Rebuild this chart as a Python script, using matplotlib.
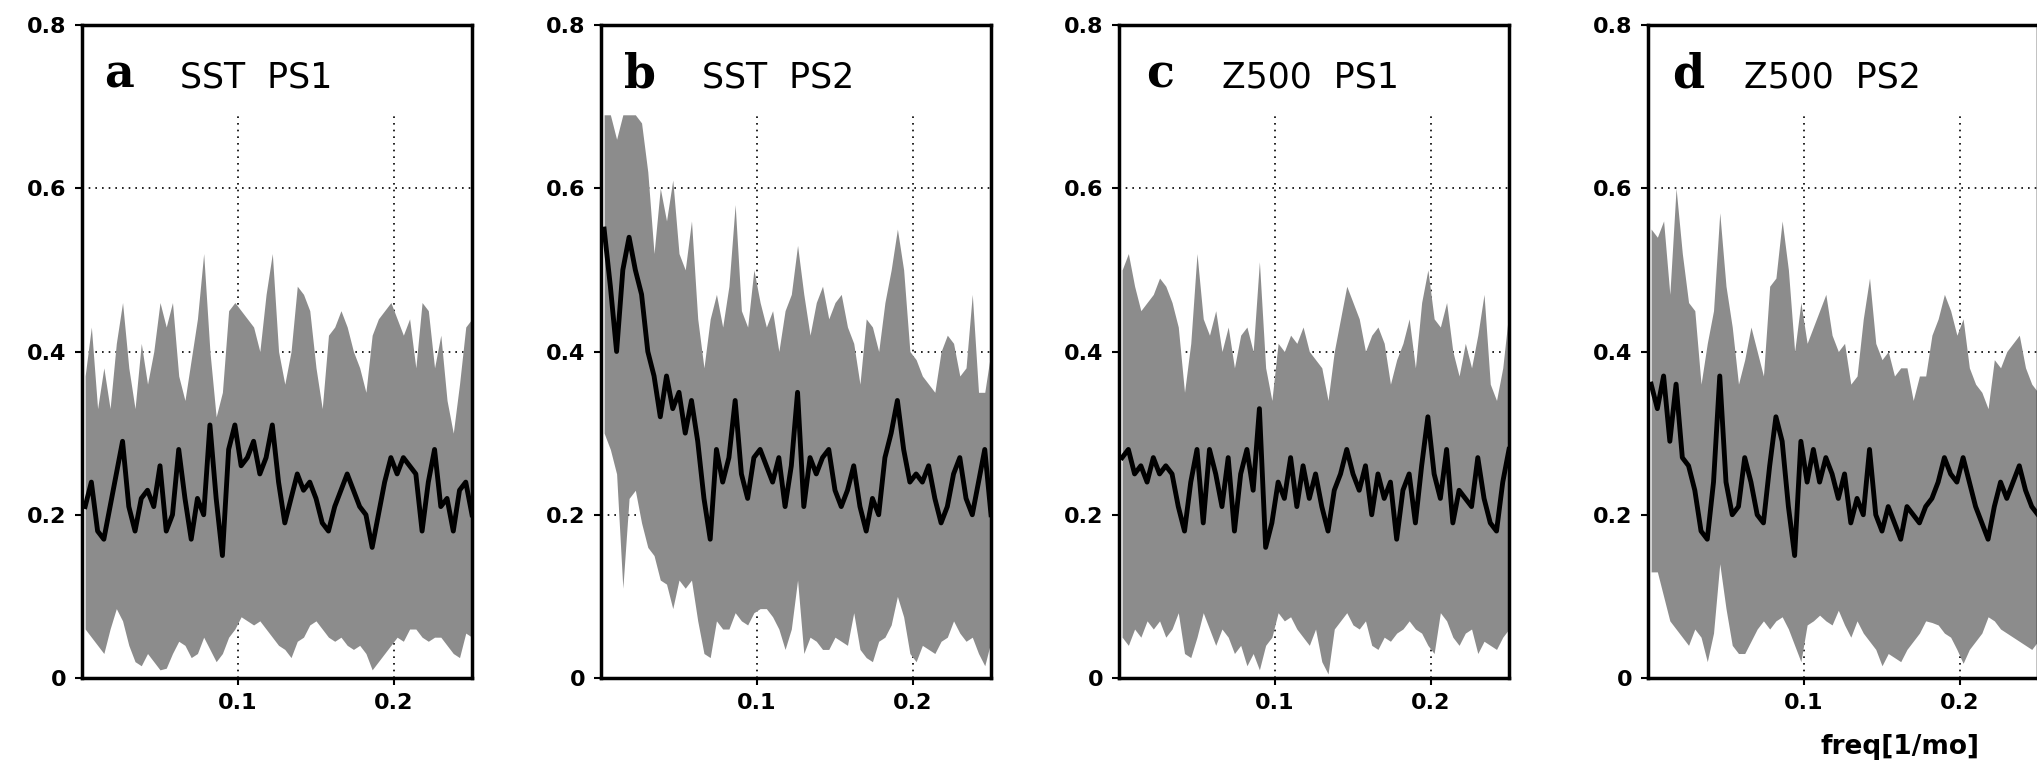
import numpy as np
import matplotlib.pyplot as plt
from matplotlib.transforms import blended_transform_factory

# --- data (x = frequency in 1/mo) ---
n_pts = 63
freq = np.linspace(0.002, 0.25, n_pts)

panel_tags = ['a', 'b', 'c', 'd']
panel_names = ['SST  PS1', 'SST  PS2', 'Z500  PS1', 'Z500  PS2']

# panel a: SST PS1
a_mean = [0.21, 0.24, 0.18, 0.17, 0.21, 0.25, 0.29, 0.21, 0.18, 0.22,
          0.23, 0.21, 0.26, 0.18, 0.20, 0.28, 0.22, 0.17, 0.22, 0.20,
          0.31, 0.22, 0.15, 0.28, 0.31, 0.26, 0.27, 0.29, 0.25, 0.27,
          0.31, 0.24, 0.19, 0.22, 0.25, 0.23, 0.24, 0.22, 0.19, 0.18,
          0.21, 0.23, 0.25, 0.23, 0.21, 0.20, 0.16, 0.20, 0.24, 0.27,
          0.25, 0.27, 0.26, 0.25, 0.18, 0.24, 0.28, 0.21, 0.22, 0.18,
          0.23, 0.24, 0.20]
a_upper = [0.37, 0.43, 0.33, 0.38, 0.33, 0.41, 0.46, 0.38, 0.33, 0.41,
           0.36, 0.40, 0.46, 0.43, 0.46, 0.37, 0.34, 0.39, 0.44, 0.52,
           0.40, 0.32, 0.35, 0.45, 0.46, 0.45, 0.44, 0.43, 0.40, 0.47,
           0.52, 0.40, 0.36, 0.40, 0.48, 0.47, 0.45, 0.38, 0.33, 0.42,
           0.43, 0.45, 0.43, 0.40, 0.38, 0.35, 0.42, 0.44, 0.45, 0.46,
           0.44, 0.42, 0.44, 0.38, 0.46, 0.45, 0.38, 0.42, 0.34, 0.30,
           0.36, 0.43, 0.44]
a_lower = [0.06, 0.05, 0.04, 0.03, 0.06, 0.085, 0.07, 0.04, 0.02, 0.015,
           0.03, 0.02, 0.01, 0.012, 0.03, 0.045, 0.04, 0.025, 0.03, 0.05,
           0.035, 0.02, 0.03, 0.05, 0.06, 0.075, 0.07, 0.065, 0.07, 0.06,
           0.05, 0.04, 0.035, 0.025, 0.045, 0.05, 0.065, 0.07, 0.06, 0.05,
           0.045, 0.05, 0.04, 0.035, 0.04, 0.03, 0.01, 0.02, 0.03, 0.04,
           0.05, 0.045, 0.06, 0.06, 0.05, 0.045, 0.05, 0.05, 0.04, 0.03,
           0.025, 0.055, 0.05]

# panel b: SST PS2
b_mean = [0.55, 0.48, 0.40, 0.50, 0.54, 0.50, 0.47, 0.40, 0.37, 0.32,
          0.37, 0.33, 0.35, 0.30, 0.34, 0.29, 0.22, 0.17, 0.28, 0.24,
          0.27, 0.34, 0.25, 0.22, 0.27, 0.28, 0.26, 0.24, 0.27, 0.21,
          0.26, 0.35, 0.21, 0.27, 0.25, 0.27, 0.28, 0.23, 0.21, 0.23,
          0.26, 0.21, 0.18, 0.22, 0.20, 0.27, 0.30, 0.34, 0.28, 0.24,
          0.25, 0.24, 0.26, 0.22, 0.19, 0.21, 0.25, 0.27, 0.22, 0.20,
          0.24, 0.28, 0.20]
b_upper = [0.69, 0.69, 0.66, 0.69, 0.69, 0.69, 0.68, 0.62, 0.52, 0.60,
           0.56, 0.61, 0.52, 0.50, 0.56, 0.44, 0.38, 0.44, 0.47, 0.43,
           0.48, 0.58, 0.45, 0.43, 0.50, 0.46, 0.43, 0.45, 0.40, 0.45,
           0.47, 0.53, 0.47, 0.42, 0.46, 0.48, 0.44, 0.46, 0.47, 0.43,
           0.41, 0.36, 0.44, 0.43, 0.40, 0.46, 0.50, 0.55, 0.50, 0.40,
           0.39, 0.37, 0.36, 0.35, 0.40, 0.42, 0.41, 0.37, 0.38, 0.47,
           0.35, 0.35, 0.40]
b_lower = [0.30, 0.28, 0.25, 0.11, 0.22, 0.23, 0.19, 0.16, 0.15, 0.12,
           0.115, 0.085, 0.12, 0.11, 0.12, 0.07, 0.03, 0.025, 0.07, 0.06,
           0.06, 0.08, 0.07, 0.065, 0.08, 0.085, 0.085, 0.075, 0.06, 0.035,
           0.06, 0.12, 0.03, 0.05, 0.045, 0.035, 0.035, 0.05, 0.045, 0.04,
           0.08, 0.035, 0.025, 0.02, 0.045, 0.05, 0.065, 0.10, 0.075, 0.03,
           0.02, 0.04, 0.035, 0.03, 0.045, 0.05, 0.07, 0.055, 0.045, 0.05,
           0.03, 0.015, 0.045]

# panel c: Z500 PS1
c_mean = [0.27, 0.28, 0.25, 0.26, 0.24, 0.27, 0.25, 0.26, 0.25, 0.21,
          0.18, 0.24, 0.28, 0.19, 0.28, 0.25, 0.21, 0.27, 0.18, 0.25,
          0.28, 0.23, 0.33, 0.16, 0.19, 0.24, 0.22, 0.27, 0.21, 0.26,
          0.22, 0.25, 0.21, 0.18, 0.23, 0.25, 0.28, 0.25, 0.23, 0.26,
          0.20, 0.25, 0.22, 0.24, 0.17, 0.23, 0.25, 0.19, 0.26, 0.32,
          0.25, 0.22, 0.28, 0.19, 0.23, 0.22, 0.21, 0.27, 0.22, 0.19,
          0.18, 0.24, 0.28]
c_upper = [0.50, 0.52, 0.48, 0.45, 0.46, 0.47, 0.49, 0.48, 0.46, 0.43,
           0.35, 0.41, 0.52, 0.44, 0.42, 0.45, 0.40, 0.43, 0.38, 0.42,
           0.43, 0.40, 0.51, 0.38, 0.34, 0.41, 0.40, 0.42, 0.41, 0.43,
           0.40, 0.39, 0.38, 0.34, 0.40, 0.44, 0.48, 0.46, 0.44, 0.40,
           0.42, 0.43, 0.41, 0.36, 0.39, 0.41, 0.44, 0.38, 0.46, 0.50,
           0.44, 0.43, 0.46, 0.40, 0.37, 0.41, 0.38, 0.42, 0.47, 0.36,
           0.34, 0.38, 0.45]
c_lower = [0.05, 0.04, 0.06, 0.05, 0.07, 0.06, 0.07, 0.05, 0.06, 0.08,
           0.03, 0.025, 0.05, 0.08, 0.06, 0.04, 0.06, 0.05, 0.03, 0.04,
           0.015, 0.03, 0.01, 0.04, 0.05, 0.08, 0.07, 0.075, 0.06, 0.05,
           0.04, 0.06, 0.02, 0.005, 0.06, 0.07, 0.08, 0.065, 0.06, 0.07,
           0.04, 0.035, 0.05, 0.045, 0.055, 0.06, 0.07, 0.06, 0.055, 0.04,
           0.03, 0.08, 0.07, 0.05, 0.04, 0.055, 0.06, 0.03, 0.045, 0.04,
           0.035, 0.05, 0.06]

# panel d: Z500 PS2
d_mean = [0.36, 0.33, 0.37, 0.29, 0.36, 0.27, 0.26, 0.23, 0.18, 0.17,
          0.24, 0.37, 0.24, 0.20, 0.21, 0.27, 0.24, 0.20, 0.19, 0.26,
          0.32, 0.29, 0.21, 0.15, 0.29, 0.24, 0.28, 0.24, 0.27, 0.25,
          0.22, 0.25, 0.19, 0.22, 0.20, 0.28, 0.20, 0.18, 0.21, 0.19,
          0.17, 0.21, 0.20, 0.19, 0.21, 0.22, 0.24, 0.27, 0.25, 0.24,
          0.27, 0.24, 0.21, 0.19, 0.17, 0.21, 0.24, 0.22, 0.24, 0.26,
          0.23, 0.21, 0.20]
d_upper = [0.55, 0.54, 0.56, 0.47, 0.60, 0.52, 0.46, 0.45, 0.36, 0.41,
           0.45, 0.57, 0.48, 0.43, 0.36, 0.39, 0.43, 0.40, 0.37, 0.48,
           0.49, 0.56, 0.50, 0.40, 0.46, 0.41, 0.43, 0.45, 0.47, 0.42,
           0.40, 0.41, 0.36, 0.37, 0.44, 0.49, 0.41, 0.39, 0.40, 0.37,
           0.38, 0.38, 0.34, 0.37, 0.37, 0.42, 0.44, 0.47, 0.45, 0.42,
           0.44, 0.38, 0.36, 0.35, 0.33, 0.39, 0.38, 0.40, 0.41, 0.42,
           0.38, 0.36, 0.35]
d_lower = [0.13, 0.13, 0.10, 0.07, 0.06, 0.05, 0.04, 0.06, 0.05, 0.02,
           0.055, 0.14, 0.085, 0.04, 0.03, 0.03, 0.045, 0.06, 0.07, 0.06,
           0.07, 0.075, 0.06, 0.04, 0.02, 0.065, 0.07, 0.077, 0.07, 0.065,
           0.083, 0.065, 0.05, 0.07, 0.055, 0.045, 0.035, 0.015, 0.03, 0.025,
           0.02, 0.035, 0.045, 0.055, 0.07, 0.068, 0.065, 0.055, 0.05, 0.035,
           0.018, 0.035, 0.045, 0.055, 0.075, 0.07, 0.06, 0.055, 0.05, 0.045,
           0.04, 0.035, 0.045]

means = [a_mean, b_mean, c_mean, d_mean]
uppers = [a_upper, b_upper, c_upper, d_upper]
lowers = [a_lower, b_lower, c_lower, d_lower]

# --- figure ---
W, H = 2037, 779
fig = plt.figure(figsize=(W / 100, H / 100), dpi=100)

lefts_px = [82, 601, 1119, 1648]
ax_w = 390 / W
ax_bottom = (H - 678) / H
ax_h = (678 - 25) / H

# title positions, as fraction of axes width
tag_x = [0.058, 0.06, 0.07, 0.062]
name_x = [0.25, 0.26, 0.264, 0.246]

for i in range(4):
    ax = fig.add_axes([lefts_px[i] / W, ax_bottom, ax_w, ax_h])

    # dotted grid (vertical lines stop below the panel title)
    for yv in [0.2, 0.4, 0.6]:
        ax.axhline(yv, color='black', lw=1.2, ls=(0, (1, 3)), zorder=1)
    for xv in [0.1, 0.2]:
        ax.axvline(xv, ymin=0, ymax=0.69 / 0.8, color='black', lw=1.2,
                   ls=(0, (1, 3)), zorder=1)

    ax.fill_between(freq, lowers[i], uppers[i], color='#8c8c8c', lw=0,
                    zorder=2)
    ax.plot(freq, means[i], color='black', lw=3.5, zorder=3)

    ax.set_xlim(0, 0.25)
    ax.set_ylim(0, 0.8)
    ax.set_xticks([0.1, 0.2])
    ax.set_xticklabels(['0.1', '0.2'])
    ax.set_yticks([0, 0.2, 0.4, 0.6, 0.8])
    ax.set_yticklabels(['0', '0.2', '0.4', '0.6', '0.8'])
    ax.tick_params(axis='both', direction='out', length=5, width=1.5,
                   labelsize=16, pad=6)
    for lab in ax.get_xticklabels() + ax.get_yticklabels():
        lab.set_fontweight('bold')
        lab.set_family('DejaVu Sans')
    for sp in ax.spines.values():
        sp.set_linewidth(2.5)

    # panel title: bold serif letter + variable name
    trans = blended_transform_factory(ax.transAxes, ax.transData)
    ax.text(tag_x[i], 0.723, panel_tags[i], transform=trans, fontsize=33,
            fontweight='bold', family='DejaVu Serif', va='baseline',
            ha='left')
    ax.text(name_x[i], 0.723, panel_names[i], transform=trans, fontsize=25,
            family='DejaVu Sans', va='baseline', ha='left')

fig.text(1900 / W, 1 - 747 / H, 'freq[1/mo]', fontsize=19,
         fontweight='bold', family='DejaVu Sans', ha='center', va='center')

fig.savefig('out.png', dpi=100)
